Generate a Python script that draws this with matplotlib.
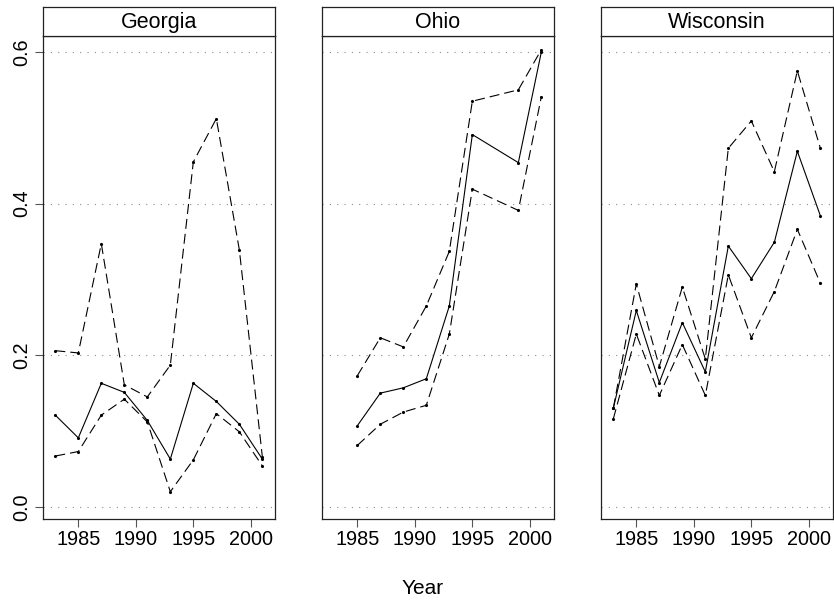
import matplotlib
matplotlib.use("Agg")
import matplotlib.pyplot as plt

plt.rcParams['font.family'] = ['Liberation Sans', 'DejaVu Sans']

# panels (states) and years observed
states = ["Georgia", "Ohio", "Wisconsin"]

years_ga = [1983, 1985, 1987, 1989, 1991, 1993, 1995, 1997, 1999, 2001]
ga_est = [0.121, 0.091, 0.163, 0.151, 0.114, 0.063, 0.163, 0.139, 0.109, 0.063]
ga_upper = [0.206, 0.203, 0.347, 0.161, 0.145, 0.187, 0.455, 0.512, 0.339, 0.066]
ga_lower = [0.067, 0.073, 0.121, 0.142, 0.112, 0.020, 0.062, 0.123, 0.099, 0.054]

years_oh = [1985, 1987, 1989, 1991, 1993, 1995, 1999, 2001]
oh_est = [0.107, 0.150, 0.157, 0.169, 0.265, 0.491, 0.454, 0.600]
oh_upper = [0.173, 0.223, 0.211, 0.265, 0.337, 0.535, 0.550, 0.603]
oh_lower = [0.081, 0.109, 0.125, 0.134, 0.228, 0.419, 0.391, 0.541]

years_wi = [1983, 1985, 1987, 1989, 1991, 1993, 1995, 1997, 1999, 2001]
wi_est = [0.130, 0.259, 0.164, 0.243, 0.178, 0.344, 0.301, 0.349, 0.469, 0.384]
wi_upper = [0.130, 0.294, 0.185, 0.290, 0.195, 0.473, 0.509, 0.442, 0.575, 0.473]
wi_lower = [0.116, 0.228, 0.147, 0.214, 0.147, 0.306, 0.223, 0.284, 0.366, 0.295]

xticks = [1985, 1990, 1995, 2000]
yticks = [0.0, 0.2, 0.4, 0.6]

panels = [
    (years_ga, ga_est, ga_upper, ga_lower),
    (years_oh, oh_est, oh_upper, oh_lower),
    (years_wi, wi_est, wi_upper, wi_lower),
]

W, H = 834, 602
fig = plt.figure(figsize=(W / 100, H / 100), dpi=100)

lefts = [43, 322, 601]
pw = 232
top, bottom = 36, 519
strip_top = 7
dash = (0, (9, 4.5))

for i, (name, (yr, est, up, lo)) in enumerate(zip(states, panels)):
    ax = fig.add_axes([lefts[i] / W, 1 - bottom / H, pw / W, (bottom - top) / H])
    for g in yticks:
        ax.axhline(g, color='#8c8c8c', lw=0.8, ls=(0, (1, 5.6)), zorder=0)
    ax.plot(yr, est, color='black', lw=0.8, marker='.', ms=2.5)
    ax.plot(yr, up, color='black', lw=0.8, ls=dash, marker='.', ms=2.5)
    ax.plot(yr, lo, color='black', lw=0.8, ls=dash, marker='.', ms=2.5)
    ax.set_xlim(1981.93, 2002.1)
    ax.set_ylim(-0.016, 0.621)
    ax.set_xticks(xticks)
    ax.set_xticklabels([str(t) for t in xticks], fontsize=14.3)
    ax.tick_params(axis='x', length=6, width=0.8, color='#555555', pad=2)
    if i == 0:
        ax.set_yticks(yticks)
        ax.set_yticklabels(["0.0", "0.2", "0.4", "0.6"], fontsize=14.3,
                           rotation=90, va='center')
        ax.tick_params(axis='y', length=5.5, width=0.8, color='#555555', pad=3)
    else:
        ax.set_yticks([])
    for s in ax.spines.values():
        s.set_linewidth(0.9)
        s.set_color('#222222')

    # strip with panel name
    sax = fig.add_axes([lefts[i] / W, 1 - top / H, pw / W, (top - strip_top) / H])
    sax.set_xticks([])
    sax.set_yticks([])
    for s in sax.spines.values():
        s.set_linewidth(0.9)
        s.set_color('#222222')
    sax.text(0.5, 0.45, name, ha='center', va='center', fontsize=15.5,
             transform=sax.transAxes)

fig.text(423 / W, 1 - 589 / H, "Year", ha='center', va='center',
         fontsize=15)

fig.savefig("out.png", dpi=100)
